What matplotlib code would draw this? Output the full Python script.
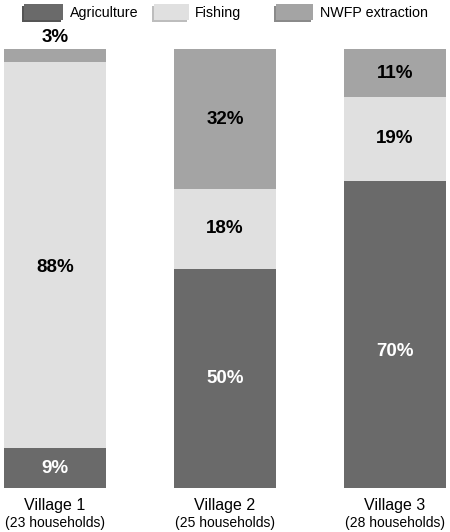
import numpy as np
import matplotlib.pyplot as plt
from matplotlib.patches import Rectangle

plt.rcParams['font.family'] = ['Liberation Sans', 'DejaVu Sans']

villages = ["Village 1", "Village 2", "Village 3"]
households = ["(23 households)", "(25 households)", "(28 households)"]
activities = ["Agriculture", "Fishing", "NWFP extraction"]
agriculture = [9, 50, 70]
fishing = [88, 18, 19]
nwfp = [3, 32, 11]

colors = ["#6a6a6a", "#e0e0e0", "#a4a4a4"]
shadows = ["#555555", "#bdbdbd", "#8a8a8a"]
text_colors = ["white", "black", "black"]
# small hand nudges of the labels (in % units), as in the original
nudge = {(0, 1): -2.7, (2, 0): -3.9}

W, H = 450, 532
fig = plt.figure(figsize=(W / 100, H / 100), dpi=100)
ax = fig.add_axes([4 / W, 44 / H, 442 / W, 439 / H])

x = np.arange(len(villages))
series = [agriculture, fishing, nwfp]
bottom = np.zeros(len(villages))
for si, (vals, c, tc) in enumerate(zip(series, colors, text_colors)):
    vals = np.array(vals, dtype=float)
    ax.bar(x, vals, 0.6, bottom=bottom, color=c, edgecolor="none")
    for xi, b, v in zip(x, bottom, vals):
        if v < 5:
            # too thin, label above the bar
            ax.text(xi, b + v + 2.7, f"{int(v)}%", ha="center", va="center",
                    fontsize=13.5, fontweight="bold", color="black", clip_on=False)
        else:
            ax.text(xi, b + v / 2 + nudge.get((xi, si), 0), f"{int(v)}%",
                    ha="center", va="center",
                    fontsize=13.5, fontweight="bold", color=tc)
    bottom += vals

ax.set_xlim(-0.3, 2.3)
ax.set_ylim(0, 100)
ax.axis("off")

for xi, name, hh in zip(x, villages, households):
    ax.text(xi, -2.2, name, ha="center", va="top", fontsize=11.5, clip_on=False)
    ax.text(xi, -6.4, hh, ha="center", va="top", fontsize=10, clip_on=False)

# legend drawn by hand: swatches with a small drop shadow
swatch_x = [24, 154, 276]
swatch_w = [39, 35, 37]
text_x = [70, 195, 320]
for sx, sw, tx, c, s, lab in zip(swatch_x, swatch_w, text_x, colors, shadows, activities):
    fig.add_artist(Rectangle(((sx - 2) / W, 1 - 22 / H), sw / W, 16 / H,
                             transform=fig.transFigure, color=s, lw=0))
    fig.add_artist(Rectangle((sx / W, 1 - 20 / H), sw / W, 16 / H,
                             transform=fig.transFigure, color=c, lw=0))
    fig.text(tx / W, 1 - 13 / H, lab, ha="left", va="center", fontsize=10.3)

fig.savefig("out.png", dpi=100)
